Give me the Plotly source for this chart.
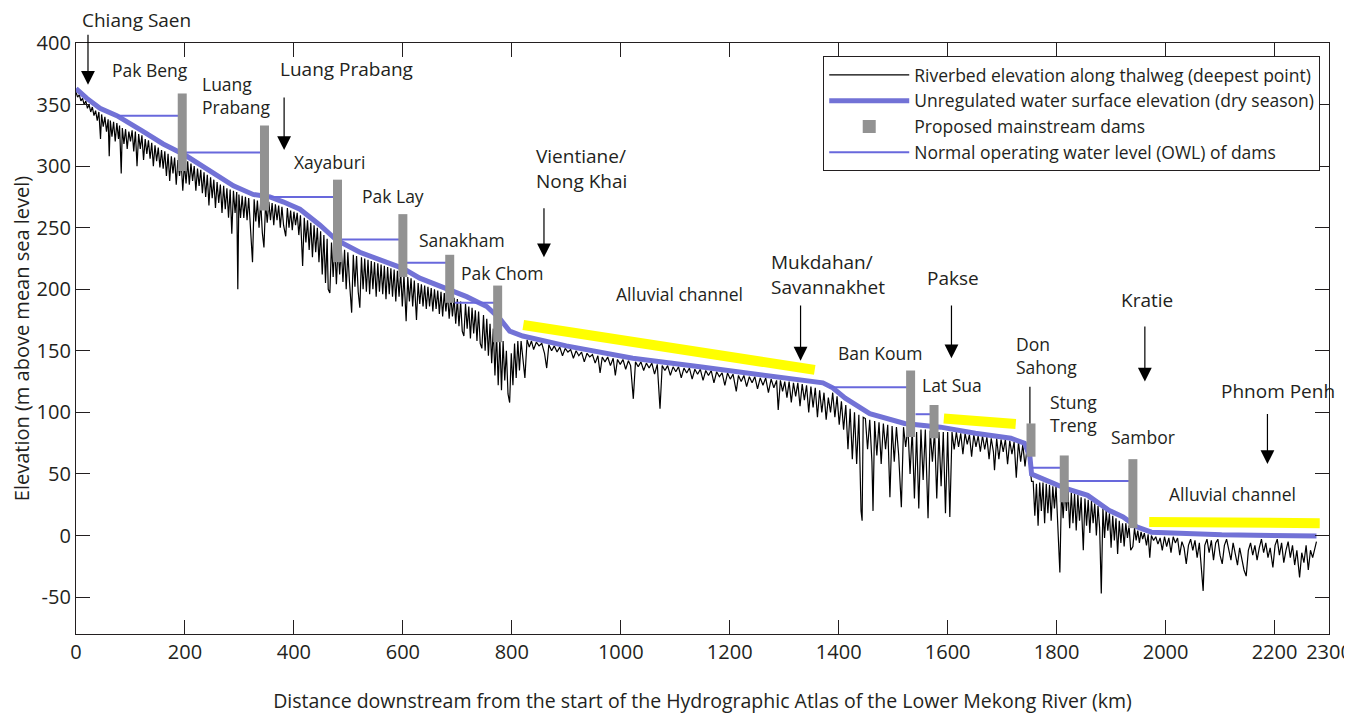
import plotly.graph_objects as go

# ---------------- data ----------------
bed_km = [0, 3, 6, 9, 12, 15, 18, 21, 24, 27, 30, 33, 36, 39, 42, 45, 47, 50, 53, 56, 59, 61, 63, 66, 69, 72, 75, 78, 80, 83, 85, 88, 91, 94, 97,
          100, 103, 106, 109, 112, 115, 118, 121, 124, 127, 130, 133, 136, 139, 142, 145, 148, 151, 154, 157, 160, 163, 166, 169, 172, 175, 178, 181, 184, 187, 190, 193, 196, 199, 202,
          205, 208, 211, 214, 217, 220, 223, 226, 229, 232, 235, 238, 241, 244, 247, 250, 253, 256, 259, 262, 265, 268, 271, 274, 277, 280, 283, 286, 289, 292, 295, 297, 299, 302,
          305, 308, 311, 314, 317, 320, 324, 327, 330, 333, 336, 339, 342, 345, 348, 351, 354, 357, 360, 363, 366, 369, 372, 375, 378, 381, 385, 388, 391, 394, 397, 400,
          403, 406, 409, 412, 416, 419, 422, 425, 428, 431, 434, 437, 440, 443, 446, 449, 452, 455, 458, 461, 463, 466, 469, 472, 475, 478, 481, 484, 487, 490, 493, 496, 499,
          502, 506, 509, 512, 515, 518, 521, 524, 527, 530, 533, 536, 539, 542, 545, 548, 551, 554, 557, 560, 563, 566, 569, 572, 575, 578, 581, 584, 587, 590, 593, 596, 599,
          602, 606, 609, 612, 615, 618, 621, 625, 628, 631, 634, 637, 640, 643, 646, 649, 652, 655, 658, 661, 664, 667, 670, 673, 676, 679, 682, 685, 688, 691, 694, 697, 700,
          703, 706, 709, 712, 715, 718, 721, 724, 727, 730, 733, 736, 739, 742, 745, 748, 751, 754, 757, 760, 763, 766, 769, 772, 775, 778, 781, 784, 787, 790, 793, 796, 799, 802, 805, 808, 811, 814, 817, 820,
          824, 828, 832, 836, 840, 845, 850, 855, 860, 864, 868, 873, 878, 883, 888, 893, 898, 903, 908, 913, 918, 923, 928, 933, 938, 943, 948, 953, 958, 962, 966, 971, 976, 981, 986, 990, 994, 999,
          1004, 1009, 1014, 1018, 1023, 1027, 1032, 1037, 1042, 1047, 1052, 1057, 1062, 1067, 1072, 1076, 1081, 1086, 1091, 1096, 1101, 1106, 1111, 1116, 1121, 1126, 1131, 1136, 1141, 1146, 1151, 1156, 1161, 1166, 1171, 1176, 1181, 1186, 1191, 1196,
          1201, 1206, 1212, 1216, 1221, 1226, 1231, 1236, 1241, 1246, 1251, 1256, 1261, 1266, 1271, 1276, 1281, 1286, 1289, 1293, 1297, 1301, 1305, 1309, 1313, 1317, 1321, 1325, 1329, 1333, 1337, 1341, 1345, 1349, 1353, 1357, 1361, 1365, 1369, 1373, 1377, 1381,
          1385, 1389, 1393, 1397, 1401, 1405, 1409, 1413, 1417, 1421, 1425, 1429, 1433, 1437, 1441, 1443, 1445, 1449, 1453, 1457, 1461, 1463, 1466, 1470, 1474, 1478, 1482, 1486, 1490, 1494, 1498,
          1502, 1506, 1510, 1515, 1519, 1523, 1527, 1531, 1535, 1539, 1543, 1547, 1551, 1555, 1559, 1564, 1568, 1572, 1576, 1580, 1584, 1588, 1592, 1596, 1600,
          1604, 1608, 1612, 1616, 1620, 1624, 1628, 1632, 1636, 1640, 1644, 1648, 1652, 1656, 1660, 1664, 1668, 1672, 1676, 1680, 1684, 1686, 1690, 1694, 1698,
          1702, 1706, 1710, 1714, 1718, 1722, 1726, 1730, 1734, 1738, 1742, 1746, 1750, 1754, 1757, 1760, 1763, 1766, 1769, 1772, 1775, 1778, 1781, 1784, 1787, 1790, 1793, 1796, 1799,
          1802, 1806, 1809, 1812, 1815, 1818, 1821, 1824, 1827, 1830, 1833, 1836, 1839, 1842, 1845, 1849, 1852, 1855, 1858, 1861, 1864, 1867, 1870, 1873, 1876, 1879, 1882, 1885, 1888, 1891, 1894, 1897,
          1900, 1903, 1906, 1909, 1912, 1915, 1918, 1921, 1924, 1927, 1930, 1933, 1936, 1940, 1943, 1946, 1949, 1952, 1955, 1958, 1961, 1965, 1968, 1971, 1974, 1978, 1982,
          1986, 1990, 1994, 1998, 2002, 2006, 2010, 2014, 2018, 2022, 2026, 2030, 2034, 2038, 2042, 2046, 2050, 2054, 2058, 2062, 2066, 2069, 2072, 2076, 2080, 2084, 2088, 2092, 2096,
          2100, 2104, 2108, 2112, 2116, 2120, 2124, 2128, 2132, 2136, 2140, 2144, 2148, 2152, 2156, 2160, 2164, 2168, 2172, 2176, 2180, 2184, 2188, 2192, 2197,
          2201, 2205, 2209, 2213, 2217, 2221, 2225, 2229, 2233, 2237, 2241, 2246, 2250, 2254, 2258, 2262, 2266, 2270, 2274, 2277]

bed_elev = [360, 356, 358, 353, 355, 350, 353, 347, 350, 344, 348, 341, 345, 337, 344, 322, 342, 332, 340, 328, 338, 308, 337, 324, 336, 320, 335, 322, 333, 294, 331, 318, 330, 314, 328,
            320, 329, 312, 328, 300, 326, 314, 325, 305, 322, 310, 321, 306, 319, 300, 317, 304, 315, 299, 313, 298, 312, 292, 310, 288, 308, 294, 307, 285, 305, 292, 304, 280, 302, 286,
            304, 285, 302, 288, 300, 280, 298, 284, 297, 278, 295, 275, 293, 268, 291, 274, 289, 266, 287, 270, 285, 262, 284, 265, 282, 258, 281, 245, 280, 262, 279, 200, 277, 258,
            276, 258, 275, 256, 274, 250, 222, 273, 255, 272, 250, 271, 246, 234, 270, 254, 271, 256, 270, 252, 269, 256, 268, 250, 267, 252, 243, 266, 250, 264, 248, 263,
            252, 262, 244, 260, 219, 258, 238, 256, 232, 254, 226, 252, 230, 250, 222, 247, 212, 244, 205, 241, 200, 197, 238, 210, 236, 204, 235, 212, 233, 206, 232, 200, 230,
            206, 181, 228, 202, 227, 198, 185, 226, 200, 225, 198, 224, 196, 223, 200, 222, 194, 221, 198, 220, 196, 219, 192, 218, 196, 217, 194, 216, 190, 215, 194, 214, 186,
            212, 174, 210, 190, 209, 186, 207, 175, 205, 188, 204, 186, 203, 184, 202, 186, 201, 182, 200, 184, 199, 180, 198, 178, 197, 182, 196, 176, 195, 178, 193, 172, 192,
            170, 190, 166, 162, 188, 168, 186, 160, 185, 164, 183, 158, 182, 156, 152, 179, 150, 176, 146, 172, 140, 168, 130, 164, 122, 160, 118, 158, 126, 150, 115, 108, 148, 122, 156, 128, 158, 134, 158, 145,
            128, 159, 153, 158, 151, 157, 154, 156, 148, 136, 155, 150, 154, 149, 153, 146, 152, 149, 151, 144, 150, 146, 149, 141, 148, 145, 147, 140, 146, 132, 145, 141, 145, 138, 144, 130, 143, 139,
            143, 135, 142, 138, 111, 141, 137, 141, 134, 140, 136, 140, 131, 139, 103, 138, 134, 138, 130, 137, 133, 137, 128, 136, 132, 136, 127, 135, 131, 135, 126, 134, 130, 134, 124, 133, 129, 132, 122, 132,
            127, 131, 117, 130, 125, 130, 121, 129, 124, 129, 119, 128, 122, 128, 116, 127, 120, 126, 102, 126, 117, 125, 112, 125, 108, 124, 113, 124, 105, 123, 110, 122, 100, 121, 104, 120, 96, 118, 100, 116, 94, 112,
            100, 116, 96, 113, 90, 109, 86, 106, 70, 103, 62, 100, 58, 98, 20, 12, 96, 95, 70, 94, 60, 20, 93, 65, 92, 58, 91, 70, 90, 31, 89,
            60, 88, 66, 23, 88, 72, 88, 50, 86, 30, 84, 22, 86, 45, 86, 14, 85, 60, 85, 30, 84, 40, 84, 18, 84,
            15, 84, 70, 84, 72, 83, 66, 83, 74, 82, 64, 82, 72, 81, 68, 81, 70, 80, 62, 79, 68, 53, 79, 62, 78,
            68, 78, 58, 77, 66, 76, 47, 76, 60, 74, 56, 72, 60, 44, 44, 16, 42, 8, 43, 20, 43, 10, 42, 18, 41, 12, 40, 22, 40,
            8, -30, 38, 14, 38, 20, 36, 6, 35, 10, 34, 4, 33, 12, 31, -12, 30, 8, 29, 2, 28, 10, 26, 0, 24, 6, -47, 22, -2, 20, 4, 18,
            -10, 16, -4, 14, -15, 12, -6, 10, -9, 10, -2, 8, -12, -9, 6, -4, 4, -6, 3, -3, 2, -8, 1, -18, 0, -4, -1,
            -7, -2, -12, -1, -9, -2, -14, -1, -6, -2, -16, -5, -10, -23, -8, -3, -12, -4, -18, -6, -28, -45, -8, -3, -14, -4, -20, -6, -3,
            -16, -23, -8, -3, -12, -20, -6, -14, -24, -10, -20, -28, -33, -12, -6, -16, -8, -20, -10, -3, -14, -6, -18, -10, -26,
            -8, -3, -16, -6, -22, -12, -5, -18, -8, -24, -12, -34, -14, -22, -8, -28, -12, -18, -10, -5]

water_km = [0, 20, 44, 75, 120, 160, 200, 240, 289, 325, 356, 380, 411, 448, 478, 521, 558, 600, 631, 680, 717, 754, 778, 796, 820,
            900, 1022, 1145, 1267, 1340, 1371, 1389, 1412, 1457, 1496, 1521, 1587, 1651, 1716, 1741, 1751, 1754, 1780, 1818, 1857,
            1896, 1922, 1947, 1974, 2103, 2277]
water_elev = [363, 355, 347, 341, 329, 318, 309, 298, 284, 277, 275, 271, 265, 252, 240, 230, 224, 217, 209, 201, 194, 186, 176, 166, 162,
              154, 144, 137, 130, 126, 124, 120, 111.5, 99, 94, 91, 88, 83, 79, 75, 64, 50, 45, 38, 32.6,
              20.4, 15, 7, 2.7, 0.6, -0.5]

dam_names = ["Pak Beng", "Luang Prabang", "Xayaburi", "Pak Lay", "Sanakham", "Pak Chom",
             "Ban Koum", "Lat Sua", "Don Sahong", "Stung Treng", "Sambor"]
dam_km = [195, 346, 480, 600, 686, 774, 1532, 1575, 1753, 1814, 1940]
dam_top = [359, 333, 289, 261, 228, 203, 134, 106, 91, 65, 62]
dam_bottom = [296, 264, 222, 210, 189, 157, 80, 79, 64, 27, 6]

owl_dam_km = [195, 346, 480, 600, 686, 774, 1532, 1575, 1814, 1940]
owl_start_km = [75, 200, 353, 487, 607, 695, 1383, 1541, 1754, 1820]
owl_level = [341, 311, 275, 240.5, 221.5, 189, 120.5, 98.5, 55, 44.3]

alluvial_start_km = [821, 1593, 1970]
alluvial_start_elev = [171, 95, 11]
alluvial_end_km = [1356, 1725, 2283]
alluvial_end_elev = [134.5, 90.5, 10]

town_names = ["Chiang Saen", "Luang Prabang", "Vientiane/<br>Nong Khai", "Mukdahan/<br>Savannakhet",
              "Pakse", "Kratie", "Phnom Penh"]
town_km = [22, 382, 859, 1330, 1607, 1962, 2187]
town_arrow_tail = [408, 357, 267, 188, 188, 171, 100]
town_arrow_head = [366, 313, 226, 142, 144, 125, 58]

x_ticks = [0, 200, 400, 600, 800, 1000, 1200, 1400, 1600, 1800, 2000, 2200, 2300]
y_ticks = [-50, 0, 50, 100, 150, 200, 250, 300, 350, 400]

# ---------------- styles ----------------
FONT = "Open Sans"
TXT = "#231f20"
BLUE_THICK = "#7272d6"
BLUE_THIN = "#6868dc"
GRAY = "#929292"
YELLOW = "#ffff00"

fig = go.Figure()

fig.add_trace(go.Scatter(x=bed_km, y=bed_elev, mode="lines",
                         line=dict(color="black", width=1.2),
                         name="Riverbed elevation along thalweg (deepest point)"))
fig.add_trace(go.Scatter(x=water_km, y=water_elev, mode="lines",
                         line=dict(color=BLUE_THICK, width=5),
                         name="Unregulated water surface elevation (dry season)"))

ox, oy = [], []
for s, e, lv in zip(owl_start_km, owl_dam_km, owl_level):
    ox += [s, e, None]
    oy += [lv, lv, None]
fig.add_trace(go.Scatter(x=ox, y=oy, mode="lines", line=dict(color=BLUE_THIN, width=2),
                         showlegend=False, hoverinfo="skip"))

for xs, ys, xe, ye in zip(alluvial_start_km, alluvial_start_elev, alluvial_end_km, alluvial_end_elev):
    fig.add_trace(go.Scatter(x=[xs, xe], y=[ys, ye], mode="lines",
                             line=dict(color=YELLOW, width=10), showlegend=False, hoverinfo="skip"))

dx, dy = [], []
for k, t, b in zip(dam_km, dam_top, dam_bottom):
    dx += [k, k, None]
    dy += [b, t, None]
fig.add_trace(go.Scatter(x=dx, y=dy, mode="lines", line=dict(color=GRAY, width=9),
                         showlegend=False, hoverinfo="skip"))
fig.add_trace(go.Scatter(x=[None], y=[None], mode="markers",
                         marker=dict(symbol="square", size=13, color=GRAY),
                         name="Proposed mainstream dams"))
fig.add_trace(go.Scatter(x=[None], y=[None], mode="lines",
                         line=dict(color=BLUE_THIN, width=2),
                         name="Normal operating water level (OWL) of dams"))

for nm, k, t, h in zip(town_names, town_km, town_arrow_tail, town_arrow_head):
    fig.add_annotation(x=k, y=h, ax=k, ay=t, axref="x", ayref="y", xref="x", yref="y",
                       text="", showarrow=True, arrowhead=2, arrowsize=2.3, arrowwidth=1.2,
                       arrowcolor="black")

fig.add_annotation(x=1751, y=91, ax=1751, ay=122, axref="x", ayref="y", xref="x", yref="y",
                   text="", showarrow=True, arrowhead=0, arrowwidth=1.2, arrowcolor="black")

fig.add_annotation(x=7, y=1.039, xref="x", yref="paper", text="Chiang Saen", showarrow=False,
                   xanchor="left", yanchor="middle", font=dict(family=FONT, size=19, color=TXT))

labels = [
    ("Luang Prabang", 497, 379, "center", 19),
    ("Vientiane/<br>Nong Khai", 840, 298, "left", 19),
    ("Mukdahan/<br>Savannakhet", 1272, 212, "left", 19),
    ("Pakse", 1609, 209, "center", 19),
    ("Kratie", 1965, 191, "center", 19),
    ("Phnom Penh", 2206, 117.5, "center", 19),
    ("Pak Beng", 136, 378, "center", 17.5),
    ("Luang<br>Prabang", 228, 357, "left", 17.5),
    ("Xayaburi", 396, 303, "left", 17.5),
    ("Pak Lay", 521, 276, "left", 17.5),
    ("Sanakham", 626, 240, "left", 17.5),
    ("Pak Chom", 703, 213, "left", 17.5),
    ("Alluvial channel", 1108, 196, "center", 17.5),
    ("Ban Koum", 1475, 148.5, "center", 17.5),
    ("Lat Sua", 1550, 122, "left", 17.5),
    ("Don<br>Sahong", 1721, 146, "left", 17.5),
    ("Stung<br>Treng", 1784, 99, "left", 17.5),
    ("Sambor", 1897, 80, "left", 17.5),
    ("Alluvial channel", 2123, 33.5, "center", 17.5),
]
for txt, x, y, anc, sz in labels:
    fig.add_annotation(x=x, y=y, xref="x", yref="y", text=txt, showarrow=False,
                       xanchor=anc, yanchor="middle", align="left",
                       font=dict(family=FONT, size=sz, color=TXT))

axis_common = dict(showline=True, linecolor=TXT, linewidth=1.3, mirror="ticks",
                   ticks="inside", ticklen=14, tickwidth=1.2, tickcolor=TXT,
                   showgrid=False, zeroline=False,
                   tickfont=dict(family=FONT, size=20, color=TXT))

fig.update_xaxes(range=[0, 2300], tickvals=x_ticks, ticktext=[str(v) for v in x_ticks],
                 title=dict(text="Distance downstream from the start of the Hydrographic Atlas of the Lower Mekong River (km)",
                            font=dict(family=FONT, size=19.5, color=TXT), standoff=30),
                 automargin=False, **axis_common)
fig.update_yaxes(range=[-80, 400], tickvals=y_ticks, ticktext=[str(v) for v in y_ticks],
                 title=dict(text="Elevation (m above mean sea level)",
                            font=dict(family=FONT, size=20, color=TXT), standoff=2),
                 automargin=False, **axis_common)

fig.update_layout(
    width=1344, height=710,
    margin=dict(l=68, r=23, t=35, b=84),
    paper_bgcolor="white", plot_bgcolor="white",
    template="none",
    showlegend=True,
    legend=dict(x=0.993, y=0.978, xanchor="right", yanchor="top",
                bgcolor="white", bordercolor=TXT, borderwidth=1,
                font=dict(family=FONT, size=17.5, color=TXT),
                itemwidth=80, tracegroupgap=0),
    font=dict(family=FONT),
)

fig.write_html("out.html")
